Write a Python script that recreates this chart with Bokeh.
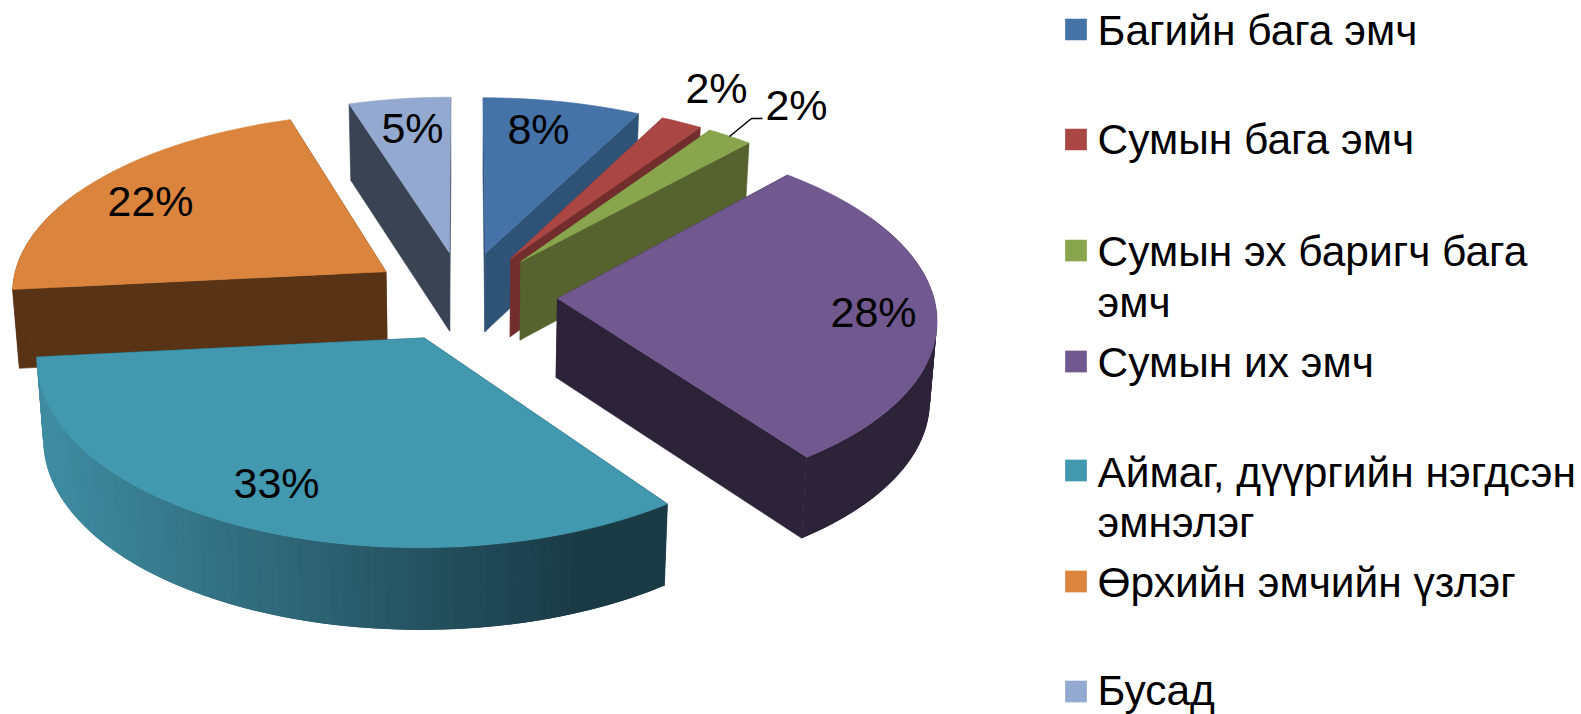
import math
from bokeh.plotting import figure
from bokeh.core.properties import value
from bokeh.embed import file_html
from bokeh.resources import INLINE

# ---- data ----
categories = ["Багийн бага эмч", "Сумын бага эмч", "Сумын эх баригч бага эмч", "Сумын их эмч",
              "Аймаг, дүүргийн нэгдсэн эмнэлэг", "Өрхийн эмчийн үзлэг", "Бусад"]
values = [7.6, 2.0, 2.2, 28.2, 33.4, 21.7, 4.9]
percent_labels = ["8%", "2%", "2%", "28%", "33%", "22%", "5%"]
top_colors = ["#4572A7", "#AA4643", "#89A54E", "#71588F", "#4198AF", "#DB843D", "#93A9CF"]
side_colors = ["#2F5277", "#722E2D", "#56632F", "#2D2339", "#1A3A46", "#593316", "#3A4354"]
legend_lines = ["Багийн бага эмч", "Сумын бага эмч", "Сумын эх баригч бага", "эмч", "Сумын их эмч",
                "Аймаг, дүүргийн нэгдсэн", "эмнэлэг", "Өрхийн эмчийн үзлэг", "Бусад"]

# ---- layout ----
W, H = 1581, 714
CX, CY, RX, RY, DEPTH = 463.0, 295.5, 376.0, 179.5, 79.0
K, EXPLODE, SHRINK = 0.101, 0.25, 0.015
LABEL_X = [538, 716, 796, 873, 276, 150, 412]
LABEL_Y = [128, 87, 104, 311, 482, 200, 127]
LEGEND_LINE_Y = [30, 139, 251, 302, 362, 472, 522, 582, 690]
LEGEND_BOX_Y = [29, 139, 250, 361, 470, 581, 691]
LEADER_X = [729, 751, 762]
LEADER_Y = [136, 118, 118]

p = figure(width=W, height=H, x_range=(0, W), y_range=(H, 0), toolbar_location=None,
           output_backend="svg", min_border=0, outline_line_color=None, background_fill_color="white")
p.xaxis.visible = False
p.yaxis.visible = False
p.grid.visible = False


def project(X, Y, bottom=False):
    s = 1.0 / (1.0 + K * Y)
    x = CX + RX * X * s
    y = CY - RY * Y * s
    if bottom:
        x = CX + (x - CX) * (1 - SHRINK)
        y = y + DEPTH * s ** 0.3
    return x, y


def hex_mix(a, b, t):
    ca = [int(a[i:i + 2], 16) for i in (1, 3, 5)]
    cb = [int(b[i:i + 2], 16) for i in (1, 3, 5)]
    return "#%02x%02x%02x" % tuple(round(u + (v - u) * t) for u, v in zip(ca, cb))


def fill(xs, ys, color, stroke=True):
    p.patch(xs, ys, fill_color=color, line_color=color if stroke else None, line_width=0.6)


total = sum(values)
spans = []
start = 0.0
for v in values:
    end = start + 360.0 * v / total
    spans.append((start, end))
    start = end

# back slices first, so that nearer ones paint over them
order = [0, 1, 2, 3, 6, 5, 4]
for i in order:
    a0, a1 = spans[i]
    mid = math.radians((a0 + a1) / 2)
    ox, oy = EXPLODE * math.sin(mid), EXPLODE * math.cos(mid)
    n = max(6, int((a1 - a0) / 1.5))
    angs = [a0 + (a1 - a0) * j / n for j in range(n + 1)]
    pts = [(ox + math.sin(math.radians(a)), oy + math.cos(math.radians(a))) for a in angs]

    # cut faces, the further one first
    apex_t, apex_b = project(ox, oy), project(ox, oy, True)
    cuts = sorted([pts[0], pts[-1]], key=lambda q: -q[1])
    for q in cuts:
        t, b = project(*q), project(*q, True)
        fill([apex_t[0], t[0], b[0], apex_b[0]], [apex_t[1], t[1], b[1], apex_b[1]], side_colors[i])

    # outer wall: overlapping strips, so that it has no seams and a true silhouette
    idx = [j for j in range(n + 1) if 60 <= angs[j] <= 300]
    for j in idx[:-1]:
        e = min(j + 2, idx[-1])
        t0, t1 = project(*pts[j]), project(*pts[e])
        b0, b1 = project(*pts[j], True), project(*pts[e], True)
        color = side_colors[i]
        if i == 4:
            u = min(1.0, max(0.0, (t0[0] - 45) / 540))
            color = hex_mix("#3F8CA1", side_colors[i], u)
        fill([t0[0], t1[0], b1[0], b0[0]], [t0[1], t1[1], b1[1], b0[1]], color, stroke=False)

    # top
    top = [project(*q) for q in pts]
    fill([apex_t[0]] + [q[0] for q in top], [apex_t[1]] + [q[1] for q in top], top_colors[i])

p.line(LEADER_X, LEADER_Y, line_color="black", line_width=1.5)

font = value("Liberation Sans")
p.text(x=LABEL_X, y=LABEL_Y, text=percent_labels, text_font=font, text_font_size="43px",
       text_align="center", text_baseline="middle", text_color="black")

p.rect(x=[1075.5] * len(LEGEND_BOX_Y), y=LEGEND_BOX_Y, width=21.7, height=21.7,
       fill_color=top_colors, line_color=None)
p.text(x=[1097] * len(legend_lines), y=LEGEND_LINE_Y, text=legend_lines, text_font=font,
       text_font_size="42.5px", text_align="left", text_baseline="middle", text_color="black")

open("out.html", "w").write(file_html(p, INLINE))
